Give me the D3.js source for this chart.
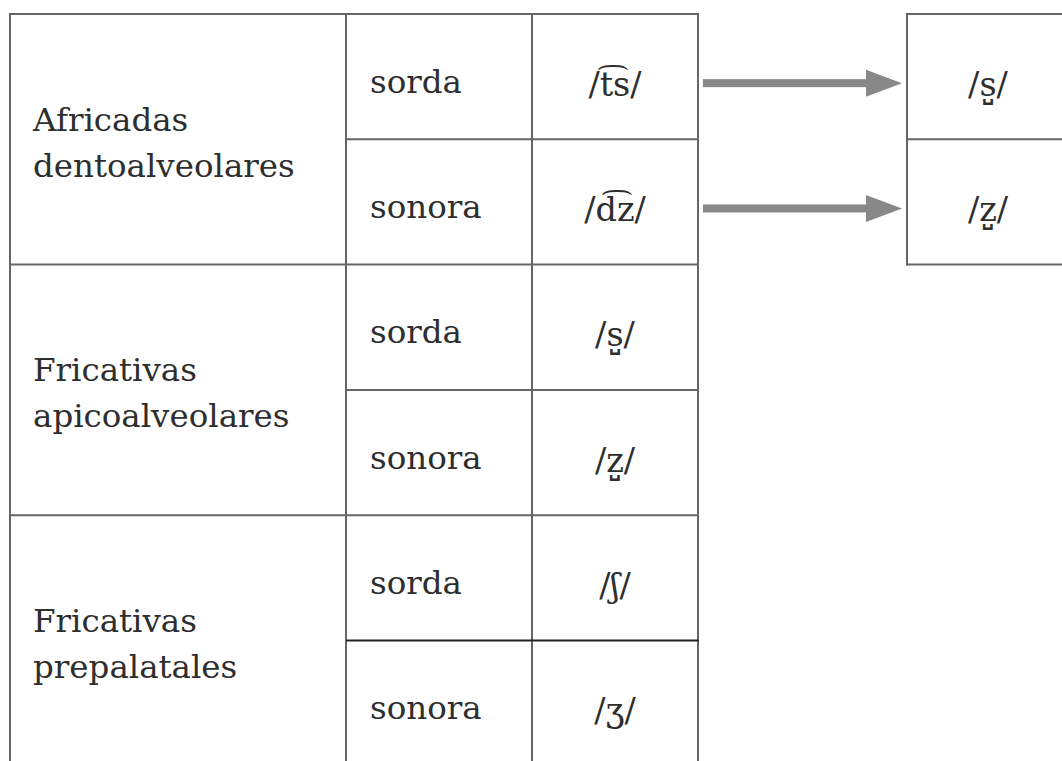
<!DOCTYPE html>
<html>
<head>
<meta charset="utf-8">
<script src="https://cdn.jsdelivr.net/npm/d3@7"></script>
<style>
  html, body { margin: 0; padding: 0; background: #ffffff; }
  svg { display: block; }
</style>
</head>
<body>
<div id="chart"></div>
<script>
// ---- data ----
const groups = [
  ["Africadas", "dentoalveolares"],
  ["Fricativas", "apicoalveolares"],
  ["Fricativas", "prepalatales"]
];
const voicing = ["sorda", "sonora", "sorda", "sonora", "sorda", "sonora"];
const phonemes = ["/t\u0361s/", "/d\u0361z/", "/s\u033A/", "/z\u033A/", "/\u0283/", "/\u0292/"];
// evolution: source row index -> result
const results = ["/s\u033A/", "/z\u033A/"];
const arrowRows = [0, 1];

// ---- layout ----
const W = 1062, H = 761;
const svg = d3.select("#chart").append("svg").attr("width", W).attr("height", H);

const nRows = voicing.length;
const y = d3.scaleLinear().domain([0, nRows]).range([14, 14 + nRows * 125.3]);
const colEdges = [10, 346, 532, 698];
const boxX0 = 907, boxX1 = 1073;

const lineColor = "#666";
const textColor = "#2e2e2e";
const font = "'DejaVu Serif', 'Liberation Serif', serif";
const fs = 32.5;
const fsPh = 33.5;

const g = svg.append("g");

// vertical lines of main table
g.selectAll("line.v").data(colEdges).join("line")
  .attr("x1", d => d).attr("x2", d => d)
  .attr("y1", y(0) - 1).attr("y2", y(nRows))
  .attr("stroke", lineColor).attr("stroke-width", 2);

// group separators (full width)
const groupIdx = d3.range(groups.length + 1).map(i => i * 2);
g.selectAll("line.gh").data(groupIdx).join("line")
  .attr("x1", colEdges[0] - 1).attr("x2", colEdges[3] + 1)
  .attr("y1", d => y(d)).attr("y2", d => y(d))
  .attr("stroke", lineColor).attr("stroke-width", 2);

// inner row separators
const innerIdx = groups.map((_, i) => i * 2 + 1);
g.selectAll("line.ih").data(innerIdx).join("line")
  .attr("x1", colEdges[1]).attr("x2", colEdges[3] + 1)
  .attr("y1", d => y(d)).attr("y2", d => y(d))
  .attr("stroke", (d, i) => i === 2 ? "#222" : lineColor)
  .attr("stroke-width", 2);

// group labels
groups.forEach((lines, i) => {
  const cy = (y(i * 2) + y(i * 2 + 2)) / 2;
  g.append("text")
    .attr("x", 33).attr("y", cy - 8.5)
    .attr("font-family", font).attr("font-size", fs).attr("fill", textColor)
    .selectAll("tspan").data(lines).join("tspan")
    .attr("x", 33).attr("dy", (d, j) => j === 0 ? 0 : 46)
    .text(d => d);
});

// voicing labels
g.selectAll("text.voi").data(voicing).join("text")
  .attr("class", "voi")
  .attr("x", 370)
  .attr("y", (d, i) => (y(i) + y(i + 1)) / 2 + 16)
  .attr("font-family", font).attr("font-size", fs).attr("fill", textColor)
  .text(d => d);

// phonemes
g.selectAll("text.ph").data(phonemes).join("text")
  .attr("class", "ph")
  .attr("x", (colEdges[2] + colEdges[3]) / 2)
  .attr("y", (d, i) => (y(i) + y(i + 1)) / 2 + 19)
  .attr("text-anchor", "middle")
  .attr("font-family", font).attr("font-size", fsPh).attr("fill", textColor)
  .text(d => d);

// result box
const box = svg.append("g");
box.append("line").attr("x1", boxX0).attr("x2", boxX0).attr("y1", y(0) - 1).attr("y2", y(2) + 1)
  .attr("stroke", lineColor).attr("stroke-width", 2);
[0, 1, 2].forEach(i => {
  box.append("line").attr("x1", boxX0 - 1).attr("x2", boxX1).attr("y1", y(i)).attr("y2", y(i))
    .attr("stroke", lineColor).attr("stroke-width", 2);
});
box.selectAll("text.res").data(results).join("text")
  .attr("class", "res")
  .attr("x", (boxX0 + boxX1) / 2 - 2)
  .attr("y", (d, i) => (y(i) + y(i + 1)) / 2 + 19)
  .attr("text-anchor", "middle")
  .attr("font-family", font).attr("font-size", fsPh).attr("fill", textColor)
  .text(d => d);

// arrows
const arrowColor = "#888";
arrowRows.forEach(r => {
  const ay = (y(r) + y(r + 1)) / 2 + 6.5;
  const x0 = 703, xh = 866, xt = 902;
  svg.append("rect").attr("x", x0).attr("y", ay - 4).attr("width", xh - x0 + 1).attr("height", 8)
    .attr("fill", arrowColor);
  svg.append("path")
    .attr("d", `M${xh},${ay - 13.5}L${xt},${ay}L${xh},${ay + 13.5}Z`)
    .attr("fill", arrowColor);
});
</script>
</body>
</html>
